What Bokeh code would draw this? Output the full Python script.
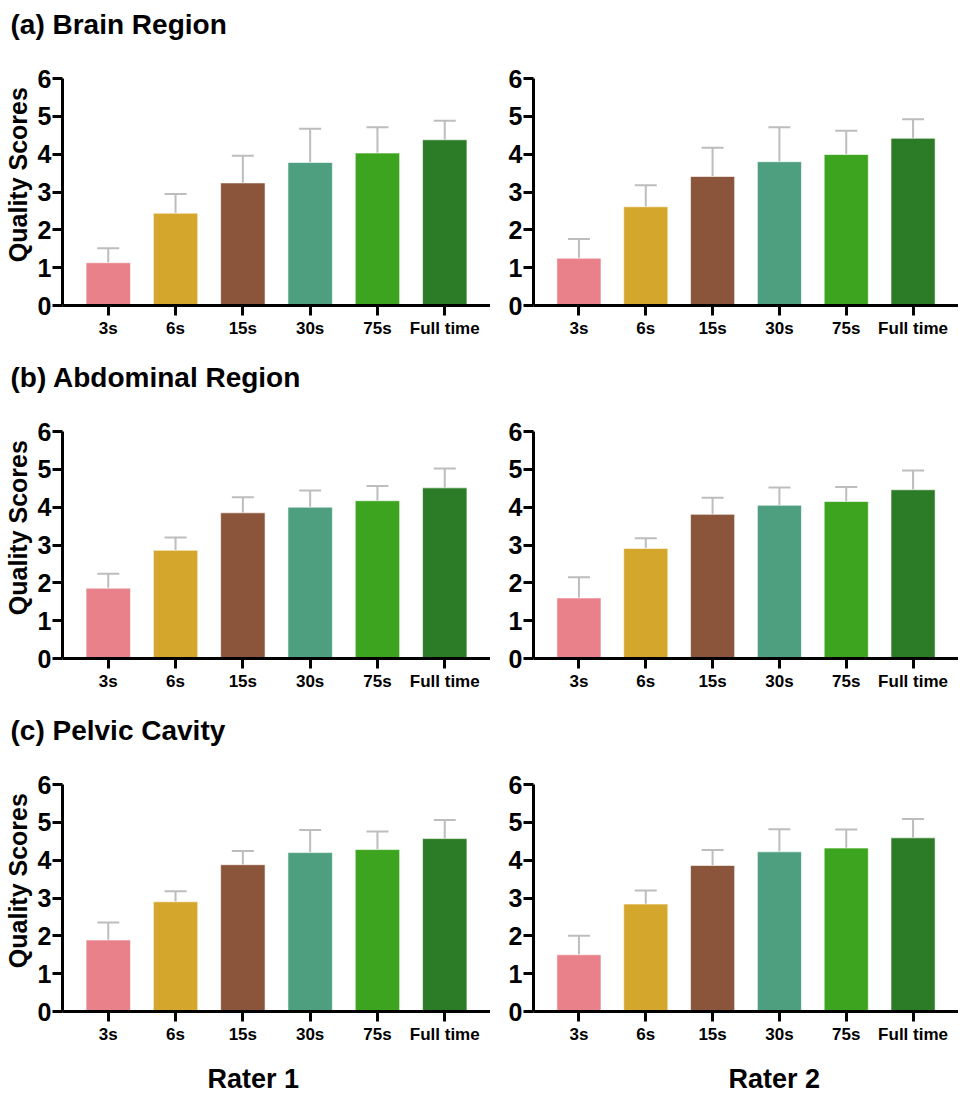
from bokeh.plotting import figure
from bokeh.models import ColumnDataSource, FactorRange, Range1d, FixedTicker, Whisker, TeeHead, Title
from bokeh.core.properties import value
from bokeh.layouts import column, row
from bokeh.embed import file_html
from bokeh.resources import INLINE

categories = ["3s", "6s", "15s", "30s", "75s", "Full time"]
bar_colors = ["#E9818A", "#D4A72C", "#8B553B", "#4E9E80", "#3CA41E", "#2C7C27"]
y_ticks = [0, 1, 2, 3, 4, 5, 6]

brain_r1_mean = [1.13, 2.44, 3.24, 3.78, 4.03, 4.38]
brain_r1_sd = [0.38, 0.51, 0.72, 0.89, 0.68, 0.50]
brain_r2_mean = [1.25, 2.61, 3.41, 3.80, 3.99, 4.42]
brain_r2_sd = [0.51, 0.57, 0.76, 0.91, 0.63, 0.50]

abd_r1_mean = [1.86, 2.86, 3.85, 4.00, 4.17, 4.51]
abd_r1_sd = [0.38, 0.34, 0.41, 0.44, 0.39, 0.51]
abd_r2_mean = [1.60, 2.91, 3.81, 4.05, 4.15, 4.46]
abd_r2_sd = [0.55, 0.27, 0.44, 0.47, 0.38, 0.51]

pel_r1_mean = [1.89, 2.90, 3.88, 4.20, 4.28, 4.57]
pel_r1_sd = [0.46, 0.28, 0.36, 0.60, 0.48, 0.49]
pel_r2_mean = [1.50, 2.84, 3.86, 4.22, 4.32, 4.59]
pel_r2_sd = [0.50, 0.36, 0.41, 0.60, 0.49, 0.50]

section_titles = ["(a) Brain Region", "(b) Abdominal Region", "(c) Pelvic Cavity"]
rater_labels = ["Rater 1", "Rater 2"]
y_label = "Quality Scores"

FONT = "Liberation Sans"
ERR_COLOR = "#BDBDBD"
HEADER_H = 44


def make_header(text):
    h = figure(x_range=Range1d(0, 950), y_range=Range1d(0, HEADER_H),
               frame_width=950, frame_height=HEADER_H,
               min_border_left=0, min_border_right=0, min_border_top=0, min_border_bottom=0,
               x_axis_type=None, y_axis_type=None,
               output_backend="svg", toolbar_location=None, tools="")
    h.xgrid.visible = False
    h.ygrid.visible = False
    h.outline_line_color = None
    h.text(x=[10], y=[20], text=[text], text_font=value(FONT), text_font_size="28px",
           text_font_style="bold", text_color="black",
           text_align="left", text_baseline="alphabetic")
    return h


def make_panel(means, sds, left, rater=None, bottom_border=48):
    upper = [m + s for m, s in zip(means, sds)]
    src = ColumnDataSource(dict(cat=categories, mean=means, upper=upper, color=bar_colors))
    p = figure(
        x_range=FactorRange(*categories, range_padding=0.18, range_padding_units="absolute"),
        y_range=Range1d(0, 6),
        frame_width=428 if left else 425,
        frame_height=227,
        min_border_left=62 if left else 43,
        min_border_right=0,
        min_border_top=78 - HEADER_H,
        min_border_bottom=bottom_border,
        output_backend="svg",
        toolbar_location=None,
        tools="",
    )
    p.vbar(x="cat", top="mean", width=0.66, fill_color="color",
           line_color="white", line_alpha=0.6, line_width=1, source=src)
    w = Whisker(source=src, base="cat", upper="upper", lower="mean",
                line_color=ERR_COLOR, line_width=2,
                upper_head=TeeHead(size=22, line_color=ERR_COLOR, line_width=2),
                lower_head=None)
    p.add_layout(w)

    p.xgrid.visible = False
    p.ygrid.visible = False
    p.outline_line_color = None
    p.background_fill_color = "white"

    for ax in (p.xaxis[0], p.yaxis[0]):
        ax.axis_line_width = 3
        ax.axis_line_color = "black"
        ax.major_tick_line_width = 3
        ax.major_tick_line_color = "black"
        ax.major_tick_in = 0
        ax.major_tick_out = 10
        ax.minor_tick_line_color = None
        ax.major_label_text_font = FONT
        ax.major_label_text_font_style = "bold"
        ax.major_label_text_color = "black"

    p.xaxis.major_label_text_font_size = "17px"
    p.xaxis.major_label_standoff = 3
    p.yaxis.major_label_text_font_size = "25px"
    p.yaxis.major_label_standoff = 1
    p.yaxis.ticker = FixedTicker(ticks=y_ticks)

    if left:
        p.yaxis.axis_label = "\u00a0" * 5 + y_label
        p.yaxis.axis_label_text_font = FONT
        p.yaxis.axis_label_text_font_size = "25px"
        p.yaxis.axis_label_text_font_style = "bold"
        p.yaxis.axis_label_text_color = "black"
        p.yaxis.axis_label_standoff = 3

    if rater is not None:
        p.add_layout(Title(text=rater, align="left", offset=145 if left else 195,
                           standoff=31, text_font=FONT, text_font_size="27px",
                           text_font_style="bold", text_color="black"), "below")
    return p


ha = make_header(section_titles[0])
a1 = make_panel(brain_r1_mean, brain_r1_sd, True)
a2 = make_panel(brain_r2_mean, brain_r2_sd, False)
hb = make_header(section_titles[1])
b1 = make_panel(abd_r1_mean, abd_r1_sd, True)
b2 = make_panel(abd_r2_mean, abd_r2_sd, False)
hc = make_header(section_titles[2])
c1 = make_panel(pel_r1_mean, pel_r1_sd, True, rater=rater_labels[0], bottom_border=80)
c2 = make_panel(pel_r2_mean, pel_r2_sd, False, rater=rater_labels[1], bottom_border=80)

layout = column(ha, row(a1, a2), hb, row(b1, b2), hc, row(c1, c2))
open("out.html", "w").write(file_html(layout, INLINE))
